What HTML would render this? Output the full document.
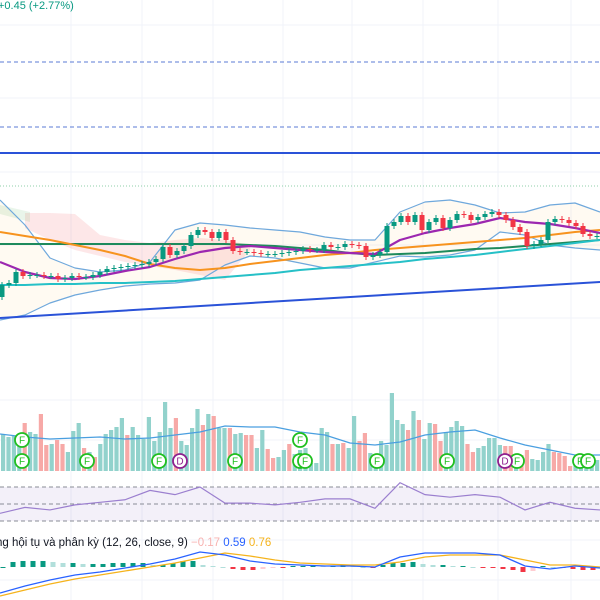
<!DOCTYPE html>
<html><head><meta charset="utf-8"><style>
html,body{margin:0;padding:0;background:#fff;width:600px;height:600px;overflow:hidden}
svg{display:block}
text{font-family:"Liberation Sans","Noto Sans CJK SC",sans-serif}
</style></head><body>
<svg id="c" width="600" height="600" viewBox="0 0 600 600"></svg>
<script>
// ---- data ----
const firstOpen = 33;
const closes = [45,47,58,54,55,55,54,54,51,52,54,53,53,55,58,61,62,63,64,65,66,68,71,83,75,79,84,95,100,98,92,98,90,79,78,78,77,76,76,76,77,78,79,81,80,80,85,83,83,86,85,84,73,75,78,104,108,114,108,115,100,108,112,102,110,116,115,110,113,116,118,115,110,103,98,84,86,90,108,111,110,107,104,96,94,94];
const maFast = [68,58,52,51,54,59,63,71,78,82,84,82,80,78,77,76,90,97,102,106,112,108,106,102,97];
const maMid = [98,94,90,85,80,74,66,62,60,62,66,69,72,75,77,80,82,84,86,88,90,92,95,98,100];
const maSlow = [86,86,86,86,86,86,86,86,86,86,85,84,82,80,77,75,76,77,79,81,82,84,86,88,90];
const maTeal = [45,45,46,46,47,47,48,49,51,53,55,57,60,62,64,66,68,71,73,75,78,81,84,87,90];
const bbUpper = [130,105,72,62,58,60,68,100,107,105,102,100,98,93,90,90,118,128,130,125,117,118,125,127,118];
const bbLower = [10,15,27,35,40,44,46,47,50,65,74,72,67,62,62,68,74,73,75,80,98,95,85,82,80];
const trendLine = [12,48];
const cloudTop = [117,117,116,95,90,87,90,92,90,85];
const cloudBot = [102,90,80,74,68,64,60,55,50,80];
const volumes = [37,34,35,30,48,39,37,57,26,27,31,27,19,40,48,23,19,14,27,37,41,44,53,36,44,36,32,54,30,39,69,43,53,30,26,43,62,46,57,55,43,43,43,37,38,36,36,23,41,22,13,14,21,27,17,21,23,8,8,43,39,27,27,28,23,55,30,38,18,16,30,26,78,51,47,41,60,51,32,48,47,30,39,44,50,45,27,19,23,25,33,33,26,25,25,14,16,21,12,11,19,27,19,18,15,5,11,14,16,13,11];
const volUp = [1,1,1,1,0,1,1,0,0,1,0,0,1,1,1,0,1,0,1,1,1,1,1,0,1,1,1,1,1,1,1,1,0,1,1,1,1,0,1,0,1,1,0,1,1,0,0,1,1,0,0,1,1,0,1,1,1,1,1,1,1,0,1,0,1,1,0,0,1,1,1,1,1,1,1,0,1,0,1,1,0,0,1,1,1,1,0,0,1,1,1,1,1,0,0,1,0,0,1,1,1,1,0,0,0,0,1,1,1,1,1];
const volMA = [434,437,439,438,437,439,438,435,432,426,427,427,432,435,443,445,442,435,432,430,438,445,450,455,455];
const rsi = [39,46,43,49,52,55,66,61,70,51,51,49,52,56,56,45,75,61,58,61,58,43,52,45,43];
const macdLine = [-1.3,-0.95,-0.65,-0.4,-0.25,-0.05,0.15,0.4,0.75,0.6,0.3,0.15,0.1,0.05,0.05,0,0.5,0.7,0.7,0.7,0.6,0.05,-0.1,0.05,-0.05];
const signalLine = [-1.45,-1.15,-0.85,-0.6,-0.4,-0.2,0,0.2,0.45,0.7,0.55,0.35,0.2,0.15,0.1,0.1,0.25,0.5,0.6,0.6,0.6,0.35,0.1,0.1,0];
const hist = [0,5,6,6,6,5,4,4,3,3,3,4,4,4,4,2,2,4,6,6,2,1,0,-2,-3,-3,-2,-1,-1,1,1,2,1,1,2,1,0,-1,2,4,4,5,3,2,2,1,1,0,-1,-1,-2,-3,-5,-4,1,0,-1,-2,-3,-3];
const eventX = [22,22,87,159,235,300,300,305,377,447,517,580,588];
const eventRow = [0,1,1,1,1,0,1,1,1,1,1,1,1];
const eventDX = [180,505];

// ---- scales ----
const yMain = p => 330 - p;
const xCandle = i => 2 + i * 7;
const xSample = i => i * 25;
const xVol = i => 1 + i * 5.4;
const yVol = v => 471 - v;
const yRsi = r => 521 - (r - 30) * 34 / 40;
const yMacd = v => 567 - v * 20;
const xHist = i => 3 + i * 10;
const NS = 'http://www.w3.org/2000/svg';
const svg = document.getElementById('c');
function mk(tag, attrs, parent) {
  const e = document.createElementNS(NS, tag);
  for (const k in attrs) e.setAttribute(k, attrs[k]);
  (parent || svg).appendChild(e);
  return e;
}
// grid
const grid = mk('g', {});


[71,142,213,283,352,423,498,571].forEach(x => mk('line', {x1:x,y1:0,x2:x,y2:600,stroke:'#f0f3fa'}, grid));
[25,98,172,245,318,400,440,540,580].forEach(y => mk('line', {x1:0,y1:y,x2:600,y2:y,stroke:'#f0f3fa'}, grid));

// horizontal levels
let e;
e = mk('line', {x1:0,y1:62,x2:600,y2:62,stroke:'#5b7bd5','stroke-dasharray':'4 3'});


e = mk('line', {x1:0,y1:127,x2:600,y2:127,stroke:'#5b7bd5','stroke-dasharray':'4 3'});


e = mk('line', {x1:0,y1:153,x2:600,y2:153,stroke:'#2a52d8','stroke-width':2});


e = mk('line', {x1:0,y1:186,x2:600,y2:186,stroke:'#8fcfa8','stroke-dasharray':'1 2'});



function pts(arr, xf, yf) { return arr.map((v, i) => xf(i) + ',' + yf(v)).join(' '); }

// bollinger fill
const bbPoly = bbUpper.map((v,i)=>xSample(i)+','+yMain(v)).concat(bbLower.map((v,i)=>[i,v]).reverse().map(([i,v])=>xSample(i)+','+yMain(v))).join(' ');
e = mk('polygon', {points:bbPoly, fill:'rgba(255,152,0,0.05)'});


// cloud
const xCloud = i => 25 + i * 25;
const cloudPoly = cloudTop.map((v,i)=>xCloud(i)+','+yMain(v)).concat(cloudBot.map((v,i)=>[i,v]).reverse().map(([i,v])=>xCloud(i)+','+yMain(v))).join(' ');
e = mk('polygon', {points:cloudPoly, fill:'rgba(242,54,69,0.12)'});


e = mk('polygon', {points:'0,205 30,212 30,222 0,214', fill:'rgba(76,175,80,0.12)'});



function line(arr, color, w, name) {
  const l = mk('polyline', {points:pts(arr, xSample, yMain), fill:'none', stroke:color, 'stroke-width':w, 'stroke-linejoin':'round'});
  
  
}
line(bbUpper, '#6fa8dc', 1.2, 'bollinger-upper');
line(bbLower, '#6fa8dc', 1.2, 'bollinger-lower');
line(maSlow, '#1e8a5c', 2, 'ma-slow');
line(maTeal, '#26c0c7', 2, 'ma-teal');
line(maMid, '#f7931e', 2, 'ma-mid');
line(maFast, '#9c27b0', 2.2, 'ma-fast');
const tl = mk('line', {x1:0,y1:yMain(trendLine[0]),x2:600,y2:yMain(trendLine[1]),stroke:'#2a52d8','stroke-width':2});



// candles
const cg = mk('g', {});


closes.forEach((c, i) => {
  const o = i === 0 ? firstOpen : closes[i-1];
  const up = c >= o;
  const col = up ? '#089981' : '#f23645';
  const x = xCandle(i);
  const hi = Math.max(o, c) + 3, lo = Math.min(o, c) - 3;
  const w = mk('line', {x1:x,y1:yMain(hi),x2:x,y2:yMain(lo),stroke:col}, cg);
  
  
  const b = mk('rect', {x:x-2.5,y:yMain(Math.max(o,c)),width:5,height:Math.max(1,Math.abs(c-o)),fill:col}, cg);
  
  
});

// volume
const vg = mk('g', {});


volumes.forEach((v, i) => {
  const r = mk('rect', {x:xVol(i),y:yVol(v),width:4.2,height:v,fill:volUp[i]?'#92d2cc':'#f7a9a7'}, vg);
  
  
});
e = mk('polyline', {points:pts(volMA, xSample, v=>v), fill:'none', stroke:'#4a9fe0','stroke-width':1.3});



// events
function marker(x, y, letter, color) {
  const g = mk('g', {});
  
  
  mk('circle', {cx:x,cy:y,r:7,fill:'#fff',stroke:color,'stroke-width':1.8}, g);
  const t = mk('text', {x:x,y:y+3.5,'text-anchor':'middle','font-size':10,fill:color}, g);
  t.textContent = letter;
}
eventX.forEach((x, i) => marker(x, eventRow[i] ? 461 : 440, 'F', '#1fbf1f'));
eventDX.forEach(x => marker(x, 461, 'D', '#8e1f8e'));

// RSI
e = mk('rect', {x:0,y:487,width:600,height:34,fill:'rgba(126,87,194,0.09)'});


[487,504,521].forEach(y => {
  const l = mk('line', {x1:0,y1:y,x2:600,y2:y,stroke:'#8a8d96','stroke-dasharray':'4 3'});
  
  
});
e = mk('polyline', {points:pts(rsi, xSample, yRsi), fill:'none', stroke:'#9b7fcf','stroke-width':1.2});



// MACD label
const lab = mk('text', {x:-4,y:546,'font-size':11.5,fill:'#131722'});


lab.innerHTML = 'ng hội tụ và phân kỳ (12, 26, close, 9) <tspan fill="#f7b2b0">−0.17</tspan> <tspan fill="#2962ff">0.59</tspan> <tspan fill="#f5b31c">0.76</tspan>';

// MACD histogram
hist.forEach((h, i) => {
  const prev = i ? hist[i-1] : 0;
  const col = h >= 0 ? (h >= prev ? '#089981' : '#b2dfdb') : (h <= prev ? '#f23645' : '#ffcdd2');
  const r = mk('rect', {x:xHist(i)-2.5,y:h>=0?567-h:567,width:5,height:Math.max(1,Math.abs(h)),fill:col});
  
  
});
e = mk('polyline', {points:pts(signalLine, xSample, yMacd), fill:'none', stroke:'#f5b31c','stroke-width':1.3});


e = mk('polyline', {points:pts(macdLine, xSample, yMacd), fill:'none', stroke:'#2962ff','stroke-width':1.3});



// top change text
const tt = mk('text', {x:-2,y:9,'font-size':11,fill:'#089981'});


tt.textContent = '+0.45 (+2.77%)';
</script>
</body></html>
